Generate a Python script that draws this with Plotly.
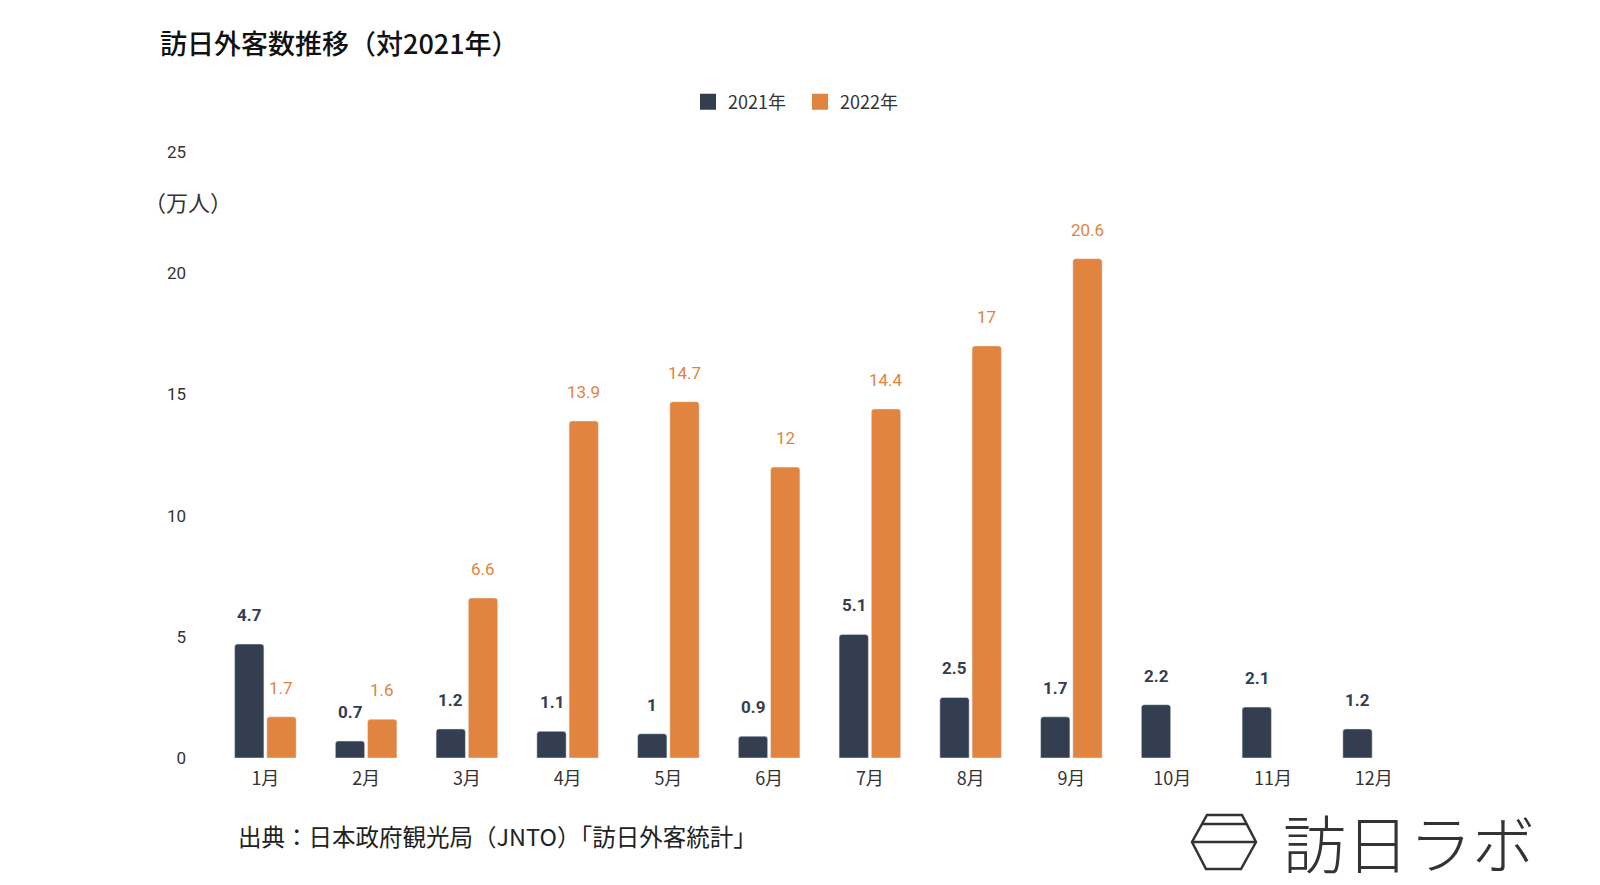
import plotly.graph_objects as go

months = ["1月", "2月", "3月", "4月", "5月", "6月", "7月", "8月", "9月", "10月", "11月", "12月"]
v2021 = [4.7, 0.7, 1.2, 1.1, 1.0, 0.9, 5.1, 2.5, 1.7, 2.2, 2.1, 1.2]
v2022 = [1.7, 1.6, 6.6, 13.9, 14.7, 12.0, 14.4, 17.0, 20.6]
months2022 = months[:len(v2022)]
yticks = [0, 5, 10, 15, 20, 25]

DARK = "#333f50"
ORANGE = "#e0843f"
FONT = "Noto Sans CJK JP"
NUMFONT = "Roboto, Noto Sans CJK JP"

W, H = 1600, 885
L, R, T, B = 215, 176, 152, 127
PW, PH = W - L - R, H - T - B


def px(x, y):
    return (x - L) / PW, (H - B - y) / PH


fig = go.Figure()
fig.add_trace(go.Bar(x=months, y=v2021, name="2021年", marker_color=DARK, showlegend=False))
fig.add_trace(go.Bar(x=months2022, y=v2022, name="2022年", marker_color=ORANGE, showlegend=False))
for name, col in [("2021年", DARK), ("2022年", ORANGE)]:
    fig.add_trace(go.Scatter(x=[None], y=[None], mode="markers", name=name,
                             marker=dict(symbol="square", size=17, color=col)))

ann = []
for m, v in zip(months, v2021):
    ann.append(dict(x=m, y=v, xref="x", yref="y", text=f"{v:g}", showarrow=False,
                    yanchor="bottom", xshift=-16, yshift=17,
                    font=dict(family=NUMFONT, size=17, color=DARK, weight="bold")))
for m, v in zip(months2022, v2022):
    ann.append(dict(x=m, y=v, xref="x", yref="y", text=f"{v:g}", showarrow=False,
                    yanchor="bottom", xshift=16, yshift=17,
                    font=dict(family=NUMFONT, size=17, color=ORANGE)))

# unit label
ax, ay = px(188, 201)
ann.append(dict(x=ax, y=ay, xref="paper", yref="paper", text="（万人）", showarrow=False,
                xanchor="center", yanchor="middle", font=dict(family=FONT, size=22, color="#333")))
# source
sx, sy = px(236, 836)
ann.append(dict(x=sx, y=sy, xref="paper", yref="paper", text="出典：日本政府観光局（JNTO）「訪日外客統計」",
                showarrow=False, xanchor="left", yanchor="middle",
                font=dict(family=FONT, size=23.5, color="#222")))
# logo text
lx, ly = px(1537, 840)
ann.append(dict(x=lx, y=ly, xref="paper", yref="paper", text="訪日ラボ", showarrow=False,
                xanchor="right", yanchor="middle",
                font=dict(family=FONT, size=63, color="#333", weight=300)))

# logo hexagon
pts = [(1207, 815), (1242, 815), (1256, 842), (1241, 869), (1206, 869), (1192, 842)]
pp = [px(x, y) for x, y in pts]
path = "M " + " L ".join(f"{a:.5f},{b:.5f}" for a, b in pp) + " Z"
shapes = [dict(type="path", xref="paper", yref="paper", path=path,
               line=dict(color="#333", width=2.5))]
for y, x0, x1 in [(824, 1202, 1247), (842, 1192, 1256)]:
    a0, b0 = px(x0, y)
    a1, b1 = px(x1, y)
    shapes.append(dict(type="line", xref="paper", yref="paper", x0=a0, y0=b0, x1=a1, y1=b1,
                       line=dict(color="#333", width=2.5)))

fig.update_layout(
    width=W, height=H,
    margin=dict(l=L, r=R, t=T, b=B),
    paper_bgcolor="white", plot_bgcolor="white",
    barmode="group", bargap=0.36, bargroupgap=0.09, barcornerradius=3,
    title=dict(text="訪日外客数推移（対2021年）", xref="container", yref="container",
               x=0.1, y=1 - 45 / H, xanchor="left", yanchor="middle",
               font=dict(family=FONT, size=27, color="#111", weight=500)),
    legend=dict(orientation="h", xref="container", yref="container", x=0.5, y=1 - 102 / H,
                xanchor="center", yanchor="middle", font=dict(family=FONT, size=18, color="#333"),
                itemwidth=30, entrywidth=67, traceorder="normal"),
    xaxis=dict(showgrid=False, showline=False, zeroline=False, ticks="", ticklabelstandoff=8,
               tickfont=dict(family=FONT, size=18, color="#333")),
    yaxis=dict(range=[0, 25], tickvals=yticks, showgrid=False, showline=False, zeroline=False,
               ticks="", ticklabelstandoff=28,
               tickfont=dict(family=NUMFONT, size=17, color="#333")),
    annotations=ann, shapes=shapes,
    font=dict(family=FONT),
)

fig.write_html("out.html", config={"displayModeBar": False},
               post_script="document.body.style.margin='0px';")
